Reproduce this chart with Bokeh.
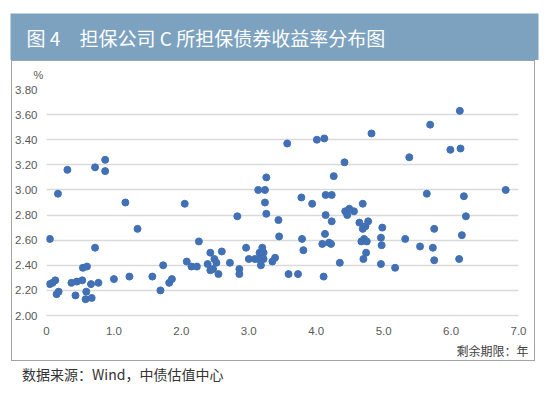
from bokeh.plotting import figure
from bokeh.models import Range1d, FixedTicker, NumeralTickFormatter, Title, Spacer
from bokeh.layouts import column, row
from bokeh.core.properties import value
from bokeh.embed import file_html
from bokeh.resources import INLINE

# Remaining maturity (years) and yield (%)
maturity = [
    0.05, 0.05, 0.09, 0.13, 0.15, 0.18, 0.17, 0.31, 0.37, 0.43, 0.45, 0.53, 0.54, 0.60,
    0.59, 0.58, 0.66, 0.67, 0.72, 0.72, 0.77, 0.87, 0.87, 1.00, 1.17, 1.23, 1.35, 1.57,
    1.69, 1.73, 1.82, 1.86, 2.05, 2.08, 2.15, 2.23, 2.26, 2.39, 2.43, 2.43, 2.47, 2.49,
    2.52, 2.55, 2.60, 2.72, 2.83, 2.86, 2.86, 2.96, 3.00, 3.09, 3.14, 3.24, 3.26, 3.24,
    3.26, 3.16, 3.20, 3.22, 3.18, 3.22, 3.18, 3.14, 3.35, 3.39, 3.44, 3.45, 3.57, 3.59,
    3.73, 3.78, 3.79, 3.81, 3.94, 4.01, 4.12, 4.09, 4.13, 4.14, 4.14, 4.11, 4.19, 4.22,
    4.23, 4.23, 4.26, 4.35, 4.42, 4.43, 4.46, 4.49, 4.56, 4.64, 4.69, 4.69, 4.73, 4.77,
    4.67, 4.71, 4.75, 4.74, 4.70, 4.82, 4.98, 4.96, 4.97, 4.96, 5.17, 5.32, 5.38, 5.54,
    5.64, 5.69, 5.73, 5.75, 5.75, 5.99, 6.13, 6.14, 6.12, 6.16, 6.19, 6.22, 6.81,
]
yield_pct = [
    2.61, 2.25, 2.26, 2.28, 2.17, 2.19, 2.97, 3.16, 2.26, 2.16, 2.27, 2.28, 2.38, 2.39,
    2.19, 2.13, 2.25, 2.14, 3.18, 2.54, 2.26, 3.24, 3.15, 2.29, 2.90, 2.31, 2.69, 2.31,
    2.20, 2.40, 2.26, 2.29, 2.89, 2.43, 2.39, 2.39, 2.59, 2.41, 2.50, 2.36, 2.37, 2.45,
    2.42, 2.33, 2.51, 2.42, 2.79, 2.37, 2.33, 2.54, 2.45, 2.45, 3.00, 3.00, 3.10, 2.90,
    2.81, 2.50, 2.54, 2.50, 2.47, 2.45, 2.40, 2.45, 2.43, 2.46, 2.76, 2.63, 3.37, 2.33,
    2.33, 2.94, 2.61, 2.52, 2.89, 3.40, 3.41, 2.57, 2.65, 2.96, 2.80, 2.31, 2.58, 2.57,
    2.96, 2.75, 3.11, 2.42, 3.22, 2.83, 2.80, 2.85, 2.83, 2.74, 2.89, 2.69, 2.71, 2.75,
    2.59, 2.61, 2.59, 2.50, 2.45, 3.45, 2.70, 2.62, 2.56, 2.41, 2.38, 2.61, 3.26, 2.55,
    2.97, 3.52, 2.54, 2.69, 2.44, 3.32, 3.63, 3.33, 2.45, 2.64, 2.95, 2.79, 3.00,
]

x_ticks = [0, 1, 2, 3, 4, 5, 6, 7]
x_tick_labels = ["0", "1.0", "2.0", "3.0", "4.0", "5.0", "6.0", "7.0"]
y_ticks = [2.0, 2.2, 2.4, 2.6, 2.8, 3.0, 3.2, 3.4, 3.6, 3.8]

title_num = "图 4"
title_text = "担保公司 C 所担保债券收益率分布图"
y_unit = "%"
x_title = "剩余期限：年"
source_text = "数据来源：Wind，中债估值中心"

CJK = "Noto Sans CJK SC"
BAR = "#7ca2bf"


def blank_fig(w, h, **kw):
    f = figure(width=w, height=h, output_backend="svg", toolbar_location=None,
               x_axis_type=None, y_axis_type=None, **kw)
    f.outline_line_color = None
    f.grid.visible = False
    return f


# ---- title bar ----
head = blank_fig(550, 60, x_range=Range1d(0, 528), y_range=Range1d(0, 47),
                 min_border_left=10, min_border_right=12, min_border_top=13, min_border_bottom=0)
head.background_fill_color = BAR
head.text(x=[16, 69], y=[23, 23], text=[title_num, title_text],
          text_font=value(CJK), text_font_size="19px", text_color="white",
          text_baseline="middle", text_align="left")

# ---- main chart ----
p = figure(width=524, height=301, output_backend="svg", toolbar_location=None,
           x_range=Range1d(0, 7), y_range=Range1d(2.0, 3.8),
           min_border_left=33, min_border_right=18, min_border_top=28, min_border_bottom=47,
           styles={"border": "1px solid #a3a3a3"})
p.outline_line_color = None
p.xgrid.grid_line_color = None
p.ygrid.grid_line_color = "#d9d9d9"
p.ygrid.grid_line_width = 1.5
p.ygrid.ticker = FixedTicker(ticks=y_ticks)

p.xaxis.ticker = FixedTicker(ticks=x_ticks)
p.xaxis.major_label_overrides = {t: l for t, l in zip(x_ticks, x_tick_labels)}
p.xaxis.axis_line_color = "#d9d9d9"
p.xaxis.axis_line_width = 1.5
p.xaxis.major_tick_line_color = None
p.xaxis.minor_tick_line_color = None
p.xaxis.major_label_standoff = 5
p.yaxis.ticker = FixedTicker(ticks=y_ticks)
p.yaxis.formatter = NumeralTickFormatter(format="0.00")
p.yaxis.axis_line_color = None
p.yaxis.major_tick_line_color = None
p.yaxis.minor_tick_line_color = None
p.yaxis.major_label_standoff = 3
for ax in (p.xaxis, p.yaxis):
    ax.major_label_text_font = "Liberation Sans"
    ax.major_label_text_font_size = "11.5px"
    ax.major_label_text_color = "#595959"

p.scatter(maturity, yield_pct, size=7, color="#4170b5", line_color="#4170b5")

p.add_layout(Title(text=y_unit, align="left", offset=-13, standoff=14, vertical_align="top",
                   text_font="Liberation Sans", text_font_size="11px",
                   text_font_style="normal", text_color="#595959"), "above")
p.add_layout(Title(text=x_title, align="right", offset=-10, standoff=4,
                   text_font=CJK, text_font_size="12px",
                   text_font_style="normal", text_color="#404040"), "below")

# ---- source line ----
foot = blank_fig(550, 30, x_range=Range1d(0, 550), y_range=Range1d(0, 30),
                 min_border_left=0, min_border_right=0, min_border_top=0, min_border_bottom=0)
foot.background_fill_color = "white"
foot.text(x=[12], y=[20], text=[source_text],
          text_font=value(CJK), text_font_size="14px", text_color="#333333",
          text_baseline="middle", text_align="left")

layout = column(head, row(Spacer(width=11, height=303), p), foot)

open("out.html", "w").write(file_html(layout, INLINE))
